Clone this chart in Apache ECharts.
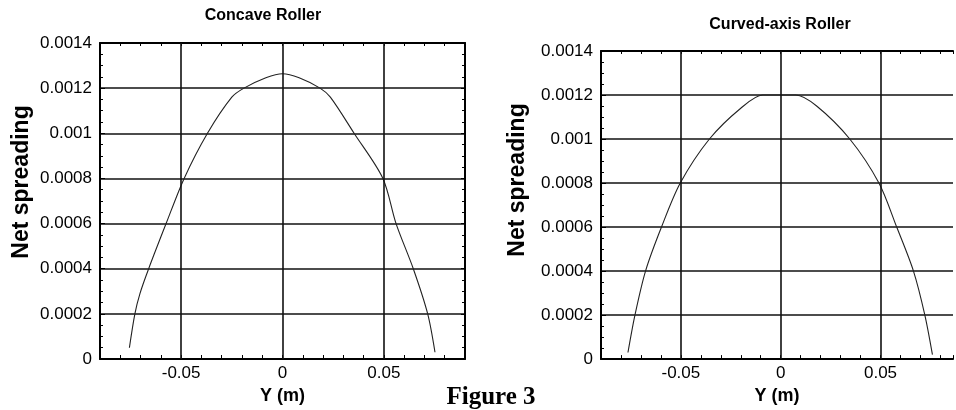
<!DOCTYPE html>
<html>
<head>
<meta charset="utf-8">
<script src="https://cdn.jsdelivr.net/npm/echarts@6/dist/echarts.min.js"></script>
<style>
html,body{margin:0;padding:0;background:#fff;}
#chart{width:956px;height:410px;}
</style>
</head>
<body>
<div id="chart"></div>
<script>
// ---- data ----
const titles = ['Concave Roller', 'Curved-axis Roller'];
const xAxisName = 'Y (m)';
const yAxisName = 'Net spreading';
const figureLabel = 'Figure 3';
const xTickValues = [-0.05, 0, 0.05];
const xTickLabels = ['-0.05', '0', '0.05'];
const yTickValues = [0, 0.0002, 0.0004, 0.0006, 0.0008, 0.001, 0.0012, 0.0014];
const yTickLabels = ['0', '0.0002', '0.0004', '0.0006', '0.0008', '0.001', '0.0012', '0.0014'];

const concaveY = [-0.0755, -0.0728, -0.0703, -0.066, -0.0574, -0.0485, -0.037, -0.025, -0.019, -0.0082, 0, 0.0082, 0.0185, 0.0236, 0.0353, 0.0495, 0.056, 0.0645, 0.0716, 0.0752];
const concaveNet = [0.00005, 0.0002, 0.00029, 0.0004, 0.0006, 0.0008, 0.001, 0.00116, 0.0012, 0.001246, 0.001264, 0.001246, 0.0012, 0.00116, 0.001, 0.0008, 0.0006, 0.0004, 0.0002, 0.00003];

const curvedY = [-0.0765, -0.073, -0.0677, -0.0597, -0.0503, -0.0357, -0.02, -0.009, 0, 0.0075, 0.018, 0.0346, 0.0492, 0.0581, 0.0665, 0.0722, 0.076];
const curvedNet = [0.00003, 0.0002, 0.0004, 0.0006, 0.0008, 0.001, 0.00114, 0.0012, 0.0012, 0.0012, 0.00115, 0.001, 0.0008, 0.0006, 0.0004, 0.0002, 0.00002];

// ---- chart ----
const FONT = '"Liberation Sans", Arial, sans-serif';
const grids = [
  {left: 100, top: 43, width: 365, height: 316},
  {left: 601, top: 51, width: 355, height: 311}
];
const xMax = [0.09, 0.0863];
const showRight = [true, false];

function xLabel(v) {
  for (let i = 0; i < xTickValues.length; i++) {
    if (Math.abs(v - xTickValues[i]) < 1e-9) return xTickLabels[i];
  }
  return '';
}
function yLabel(v) {
  for (let i = 0; i < yTickValues.length; i++) {
    if (Math.abs(v - yTickValues[i]) < 1e-10) return yTickLabels[i];
  }
  return '';
}

const xAxes = [], yAxes = [], series = [];
const datasets = [[concaveY, concaveNet], [curvedY, curvedNet]];
grids.forEach((g, gi) => {
  const axisLine = {show: true, onZero: false, lineStyle: {color: '#000', width: 2}};
  xAxes.push({
    type: 'value', gridIndex: gi, position: 'bottom', min: -0.09, max: xMax[gi], interval: 0.01,
    axisLine: axisLine,
    axisTick: {show: true, inside: true, length: 4, lineStyle: {color: '#000', width: 1}},
    axisLabel: {show: true, formatter: xLabel, color: '#000', fontFamily: FONT, fontSize: 17, margin: 6, showMinLabel: true, showMaxLabel: true},
    splitLine: {show: false},
    name: xAxisName, nameLocation: 'middle', nameGap: 22,
    nameTextStyle: {color: '#000', fontFamily: FONT, fontSize: 18, fontWeight: 'bold'}
  });
  xAxes.push({
    type: 'value', gridIndex: gi, position: 'top', min: -0.09, max: xMax[gi], interval: 0.01,
    axisLine: axisLine,
    axisTick: {show: true, inside: true, length: 3, lineStyle: {color: '#000', width: 1}},
    axisLabel: {show: false}, splitLine: {show: false}
  });
  yAxes.push({
    type: 'value', gridIndex: gi, position: 'left', min: 0, max: 0.0014, interval: 0.0002,
    axisLine: axisLine,
    axisTick: {show: true, inside: true, length: 5, lineStyle: {color: '#000', width: 1}},
    minorTick: {show: true, splitNumber: 4, length: 3, lineStyle: {color: '#000', width: 1}},
    axisLabel: {show: true, formatter: yLabel, color: '#000', fontFamily: FONT, fontSize: 17, margin: 8},
    splitLine: {show: true, lineStyle: {color: '#111', width: 1.6}}
  });
  yAxes.push({
    type: 'value', gridIndex: gi, position: 'right', min: 0, max: 0.0014, interval: 0.0002,
    show: showRight[gi],
    axisLine: axisLine,
    axisTick: {show: true, inside: true, length: 4, lineStyle: {color: '#000', width: 1}},
    minorTick: {show: true, splitNumber: 4, length: 3, lineStyle: {color: '#000', width: 1}},
    axisLabel: {show: false}, splitLine: {show: false}
  });
  const xs = datasets[gi][0], ys = datasets[gi][1];
  series.push({
    type: 'line', xAxisIndex: gi * 2, yAxisIndex: gi * 2,
    data: xs.map((x, i) => [x, ys[i]]),
    showSymbol: false, symbol: 'none', smooth: 0.3, silent: true,
    lineStyle: {color: '#222', width: 1.1},
    markLine: {
      silent: true, symbol: 'none', label: {show: false},
      lineStyle: {color: '#111', width: 1.6, type: 'solid'},
      data: xTickValues.map(v => ({xAxis: v}))
    },
    z: 3
  });
});

const graphic = [
  {type: 'text', x: 263, y: 16, style: {text: titles[0], align: 'center', verticalAlign: 'middle', font: 'bold 16px ' + FONT, fill: '#000'}},
  {type: 'text', x: 780, y: 25, style: {text: titles[1], align: 'center', verticalAlign: 'middle', font: 'bold 16px ' + FONT, fill: '#000'}},
  {type: 'text', x: 22, y: 182, rotation: Math.PI / 2, style: {text: yAxisName, align: 'center', verticalAlign: 'middle', font: 'bold 23px ' + FONT, fill: '#000'}},
  {type: 'text', x: 518, y: 180, rotation: Math.PI / 2, style: {text: yAxisName, align: 'center', verticalAlign: 'middle', font: 'bold 23px ' + FONT, fill: '#000'}},
  {type: 'text', x: 491, y: 398, style: {text: figureLabel, align: 'center', verticalAlign: 'middle', font: 'bold 25px "Liberation Serif", "Times New Roman", serif', fill: '#000'}}
];

const chart = echarts.init(document.getElementById('chart'), null, {renderer: 'canvas'});
chart.setOption({
  animation: false,
  backgroundColor: '#fff',
  grid: grids,
  xAxis: xAxes,
  yAxis: yAxes,
  series: series,
  graphic: graphic
});
</script>
</body>
</html>
